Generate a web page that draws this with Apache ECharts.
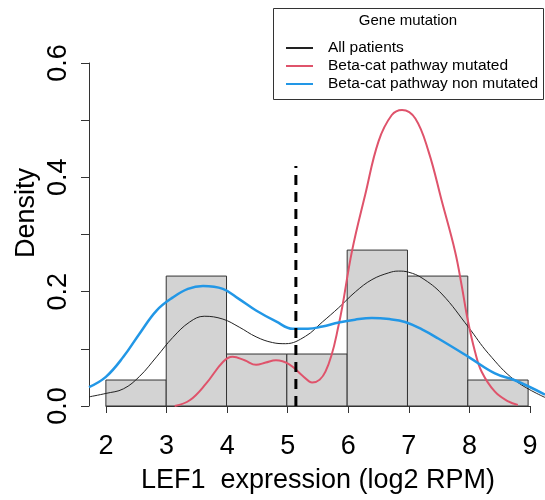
<!DOCTYPE html>
<html>
<head>
<meta charset="utf-8">
<script src="https://cdn.jsdelivr.net/npm/echarts@6/dist/echarts.min.js"></script>
<style>
html,body{margin:0;padding:0;background:#fff;}
#chart{width:545px;height:500px;}
</style>
</head>
<body>
<div id="chart"></div>
<script>
// Histogram: [bin start, bin end, density]
const histBins = [
  [2, 3, 0.04545],
  [3, 4, 0.22727],
  [4, 5, 0.09091],
  [5, 6, 0.09091],
  [6, 7, 0.27273],
  [7, 8, 0.22727],
  [8, 9, 0.04545]
];
// Density curves: [x, density]
const allPatients = [
  [1.72,0.016],[2.0,0.022],[2.29,0.030],[2.56,0.052],[2.84,0.086],[3.11,0.120],[3.39,0.147],
  [3.63,0.157],[3.94,0.152],[4.21,0.138],[4.49,0.121],[4.76,0.111],[4.98,0.109],[5.31,0.122],
  [5.59,0.147],[5.86,0.172],[6.14,0.200],[6.41,0.221],[6.69,0.233],[6.85,0.236],[7.02,0.234],
  [7.24,0.224],[7.57,0.196],[8.01,0.138],[8.34,0.092],[8.78,0.045],[9.28,0.015]
];
const betaMutated = [
  [3.14,0.0],[3.39,0.010],[3.66,0.039],[3.94,0.077],[4.10,0.086],[4.30,0.080],[4.49,0.072],
  [4.65,0.076],[4.82,0.080],[5.04,0.073],[5.26,0.053],[5.42,0.041],[5.64,0.060],[5.86,0.142],
  [6.08,0.271],[6.30,0.370],[6.52,0.463],[6.74,0.509],[6.91,0.518],[7.13,0.503],[7.35,0.445],
  [7.57,0.358],[7.79,0.270],[7.90,0.210],[8.00,0.150],[8.12,0.095],[8.23,0.060],[8.45,0.025],
  [8.67,0.008],[8.83,0.002]
];
const betaNonMutated = [
  [1.72,0.033],[2.0,0.051],[2.29,0.086],[2.56,0.127],[2.84,0.167],[3.11,0.190],[3.36,0.205],
  [3.61,0.210],[3.94,0.205],[4.21,0.187],[4.49,0.167],[4.82,0.148],[5.10,0.135],[5.35,0.135],
  [5.59,0.139],[5.86,0.146],[6.13,0.151],[6.41,0.154],[6.70,0.152],[6.96,0.147],[7.24,0.134],
  [7.51,0.118],[8.01,0.086],[8.45,0.057],[8.78,0.045],[9.28,0.020]
];
// Threshold marker (dashed vertical line)
const threshold = [[5.15,0],[5.15,0.42]];
const xTicks = [2,3,4,5,6,7,8,9];
const plotRange = [1.72, 9.28];
const seriesNames = ['All patients','Beta-cat pathway mutated','Beta-cat pathway non mutated'];
const seriesColors = ['#222222','#DF536B','#2297E6'];
const legendTitle = 'Gene mutation';
const xTitle = 'LEF1  expression (log2 RPM)';
const yTitle = 'Density';

const FONT = '"Liberation Sans", Arial, sans-serif';
const chart = echarts.init(document.getElementById('chart'));
chart.setOption({
  animation:false,
  grid:[
    {left:89, width:458, top:63, bottom:94},   // plotting region
    {left:106, right:15, top:63, bottom:94}    // axes
  ],
  xAxis:[
    {gridIndex:0, type:'value', min:plotRange[0], max:plotRange[1], show:false},
    {
      gridIndex:1, type:'value', min:xTicks[0], max:xTicks[xTicks.length-1], interval:1,
      offset:17,
      axisLine:{show:true, lineStyle:{color:'#333', width:1}},
      axisTick:{show:true, length:7, lineStyle:{color:'#333'}},
      axisLabel:{fontSize:27, fontFamily:FONT, color:'#000', margin:10},
      splitLine:{show:false},
      name:xTitle, nameLocation:'middle', nameGap:44,
      nameTextStyle:{fontSize:27, fontFamily:FONT, color:'#000'}
    }
  ],
  yAxis:[
    {gridIndex:0, type:'value', min:0, max:0.6, show:false},
    {
      gridIndex:1, type:'value', min:0, max:0.6, interval:0.1,
      offset:17,
      axisLine:{show:true, lineStyle:{color:'#333', width:1}},
      axisTick:{show:true, length:8, lineStyle:{color:'#333'}},
      axisLabel:{fontSize:27, fontFamily:FONT, color:'#000', rotate:90, margin:17,
        formatter:function(v){ const k=Math.round(v*10); return k%2===0 ? (k/10).toFixed(1) : ''; }},
      splitLine:{show:false}
    }
  ],
  legend:{
    data:seriesNames, orient:'vertical', left:286, top:39, padding:0,
    icon:'rect', itemWidth:27, itemHeight:2, itemGap:0,
    textStyle:{fontSize:15.5, fontFamily:FONT, color:'#000', lineHeight:18, padding:[0,0,0,10]}
  },
  graphic:[
    {type:'rect', left:273, top:8, z:0, shape:{width:270, height:91},
     style:{fill:'#fff', stroke:'#333', lineWidth:1}},
    {type:'text', z:10, style:{text:legendTitle, x:408, y:21, textAlign:'center', textVerticalAlign:'middle',
      font:'15px '+FONT, fill:'#000'}},
    {type:'text', z:10, rotation:Math.PI/2, x:27, y:213,
     style:{text:yTitle, textAlign:'center', textVerticalAlign:'middle', font:'27px '+FONT, fill:'#000'}}
  ],
  series:[
    {
      type:'custom', name:'hist', z:1, xAxisIndex:0, yAxisIndex:0,
      data:histBins,
      renderItem:function(params, api){
        const p0 = api.coord([api.value(0), 0]);
        const p1 = api.coord([api.value(1), api.value(2)]);
        return {type:'rect', shape:{x:p0[0], y:p1[1], width:p1[0]-p0[0], height:p0[1]-p1[1]},
          style:{fill:'#d3d3d3', stroke:'#333', lineWidth:1}};
      }
    },
    {type:'line', name:seriesNames[0], data:allPatients, smooth:0.4, symbol:'none', showSymbol:false,
     xAxisIndex:0, yAxisIndex:0, z:3, lineStyle:{color:seriesColors[0], width:1}, itemStyle:{color:seriesColors[0]}},
    {type:'line', name:seriesNames[1], data:betaMutated, smooth:0.4, symbol:'none', showSymbol:false,
     xAxisIndex:0, yAxisIndex:0, z:3, lineStyle:{color:seriesColors[1], width:2}, itemStyle:{color:seriesColors[1]}},
    {type:'line', name:seriesNames[2], data:betaNonMutated, smooth:0.4, symbol:'none', showSymbol:false,
     xAxisIndex:0, yAxisIndex:0, z:3, lineStyle:{color:seriesColors[2], width:2.5}, itemStyle:{color:seriesColors[2]}},
    {type:'line', name:'threshold', data:threshold, symbol:'none', showSymbol:false, z:4,
     xAxisIndex:0, yAxisIndex:0, lineStyle:{color:'#000', width:3, type:[10,7]}}
  ]
});
</script>
</body>
</html>
